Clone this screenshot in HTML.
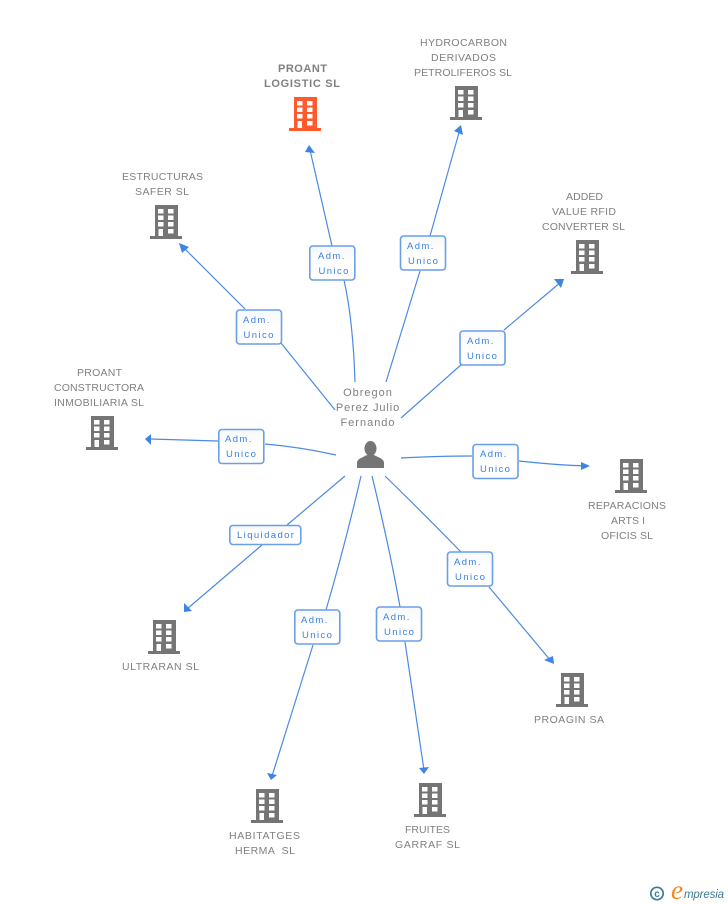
<!DOCTYPE html>
<html><head><meta charset="utf-8"><style>
html,body{margin:0;padding:0;background:#fff}
svg{display:block}
text{font-family:"Liberation Sans",sans-serif}
.n{font-size:10.5px;fill:#808080;text-anchor:middle}
.h{font-size:11px;font-weight:bold;fill:#808080;text-anchor:middle}
.l{font-size:9.5px;fill:#3a7fe0;letter-spacing:1.4px}
.c{fill:none;stroke:#4a8ae6;stroke-width:1.2}
.b{fill:url(#g);stroke:#6a9fe8;stroke-width:1.6}
.a{fill:#3d84e6}
</style></head><body>
<svg width="728" height="905" viewBox="0 0 728 905" xmlns="http://www.w3.org/2000/svg">
<defs>
<linearGradient id="g" x1="0" y1="0" x2="0" y2="1"><stop offset="0" stop-color="#f6f8fb"/><stop offset=".5" stop-color="#ffffff"/></linearGradient>
<symbol id="bld" width="32" height="34" viewBox="0 0 32 34">
<path fill-rule="evenodd" d="M5 0H28V31H32V34H0V31H5ZM8 4v4.500h5.500V4ZM18 4v4.500h5.500V4ZM8 10.500v4.500h5.500v-4.500ZM18 10.500v4.500h5.500v-4.500ZM8 17v4.500h5.500V17ZM18 17v4.500h5.500V17ZM8.500 24V31H13V24ZM18 24v4.500h5.500V24Z"/>
</symbol>
</defs>

<!-- connectors -->
<path class="c" d="M355 382Q353 320 344 280Q339 262 332 246L310 150"/>
<path class="c" d="M386 382L420 271M430 236L460 129"/>
<path class="c" d="M401 418L462 364M504 330L561 282"/>
<path class="c" d="M335 410L281 343M245 309L183 247"/>
<path class="c" d="M336 455Q300 447 265 444M218 441L150 439"/>
<path class="c" d="M401 458Q440 456 472 456M519 461Q555 465 586 466"/>
<path class="c" d="M385 476Q425 515 461 552M489 587L551 661"/>
<path class="c" d="M372 476Q390 550 400 607M405 642L424 770"/>
<path class="c" d="M361 476Q345 545 326 610M313 645L272 776"/>
<path class="c" d="M345 476L287 525M262 545L187 609"/>

<!-- arrowheads -->
<path class="a" d="M309 145L315 153L305 152Z"/>
<path class="a" d="M461 125L463 135L454 131Z"/>
<path class="a" d="M564 279L561 288L554 279Z"/>
<path class="a" d="M179 243L189 247L182 253Z"/>
<path class="a" d="M145 439L151 434L151 445Z"/>
<path class="a" d="M590 466L581 462L581 470Z"/>
<path class="a" d="M554 664L544 660L553 656Z"/>
<path class="a" d="M424 774L419 768L429 767Z"/>
<path class="a" d="M271 780L267 773L277 775Z"/>
<path class="a" d="M184 612L192 611L184 603Z"/>

<!-- label boxes -->
<g>
<rect class="b" x="309.800" y="246" width="45" height="34" rx="3"/>
<text class="l" x="318" y="259">Adm.</text><text class="l" x="318.500" y="274">Unico</text>
<rect class="b" x="400.500" y="236" width="45" height="34" rx="3"/>
<text class="l" x="407" y="249">Adm.</text><text class="l" x="408" y="264">Unico</text>
<rect class="b" x="460" y="331" width="45" height="34" rx="3"/>
<text class="l" x="467" y="344">Adm.</text><text class="l" x="467" y="359">Unico</text>
<rect class="b" x="473" y="444.500" width="45" height="34" rx="3"/>
<text class="l" x="480" y="457">Adm.</text><text class="l" x="480" y="472">Unico</text>
<rect class="b" x="447.500" y="552" width="45" height="34" rx="3"/>
<text class="l" x="454" y="565">Adm.</text><text class="l" x="455" y="580">Unico</text>
<rect class="b" x="376.500" y="607" width="45" height="34" rx="3"/>
<text class="l" x="383" y="620">Adm.</text><text class="l" x="384" y="635">Unico</text>
<rect class="b" x="294.800" y="610" width="45" height="34" rx="3"/>
<text class="l" x="301" y="623">Adm.</text><text class="l" x="302" y="638">Unico</text>
<rect class="b" x="229.800" y="525.500" width="71" height="19" rx="3"/>
<text class="l" x="237" y="538">Liquidador</text>
<rect class="b" x="218.800" y="429.500" width="45" height="34" rx="3"/>
<text class="l" x="225" y="442">Adm.</text><text class="l" x="226" y="457">Unico</text>
<rect class="b" x="236.500" y="310" width="45" height="34" rx="3"/>
<text class="l" x="243" y="323">Adm.</text><text class="l" x="243.500" y="338">Unico</text>
</g>

<!-- buildings -->
<g fill="#ff5a2c"><use href="#bld" x="289" y="97"/></g>
<g fill="#757575">
<use href="#bld" x="450" y="86"/>
<use href="#bld" x="150" y="205"/>
<use href="#bld" x="571" y="240"/>
<use href="#bld" x="86" y="416"/>
<use href="#bld" x="615" y="459"/>
<use href="#bld" x="148" y="620"/>
<use href="#bld" x="556" y="673"/>
<use href="#bld" x="251" y="789"/>
<use href="#bld" x="414" y="783"/>
</g>

<!-- person -->
<g fill="#757575">
<ellipse cx="370.500" cy="448.500" rx="6" ry="7.500"/>
<path d="M357 468V462Q358 459 362 457.500L367 455H374L379 457.500Q383 459 384 462V468Z"/>
</g>

<!-- node labels -->
<text class="h" x="302.500" y="72" textLength="49">PROANT</text>
<text class="h" x="302" y="87" textLength="76">LOGISTIC SL</text>
<text class="n" x="463.500" y="46" textLength="87">HYDROCARBON</text>
<text class="n" x="463.500" y="61" textLength="65">DERIVADOS</text>
<text class="n" x="463" y="76" textLength="98">PETROLIFEROS SL</text>
<text class="n" x="162.500" y="180" textLength="81">ESTRUCTURAS</text>
<text class="n" x="162" y="195" textLength="54">SAFER SL</text>
<text class="n" x="584.500" y="200" textLength="37">ADDED</text>
<text class="n" x="584" y="215" textLength="64">VALUE RFID</text>
<text class="n" x="583.500" y="230" textLength="83">CONVERTER SL</text>
<text class="n" x="99.500" y="376" textLength="45">PROANT</text>
<text class="n" x="99" y="391" textLength="90">CONSTRUCTORA</text>
<text class="n" x="99" y="406" textLength="90">INMOBILIARIA SL</text>
<text class="n" x="627" y="509" textLength="78">REPARACIONS</text>
<text class="n" x="628" y="524" textLength="34">ARTS I</text>
<text class="n" x="627" y="539" textLength="52">OFICIS SL</text>
<text class="n" x="160.500" y="670" textLength="77">ULTRARAN SL</text>
<text class="n" x="569" y="723" textLength="70">PROAGIN SA</text>
<text class="n" x="264.500" y="839" textLength="71">HABITATGES</text>
<text class="n" x="265" y="854" textLength="60" xml:space="preserve">HERMA  SL</text>
<text class="n" x="427.500" y="833" textLength="45">FRUITES</text>
<text class="n" x="427.500" y="848" textLength="65">GARRAF SL</text>
<text class="n" style="font-size:11px;letter-spacing:1px" x="368" y="396">Obregon</text>
<text class="n" style="font-size:11px;letter-spacing:.9px" x="368" y="411">Perez Julio</text>
<text class="n" style="font-size:11px;letter-spacing:1px" x="368" y="426">Fernando</text>

<!-- logo -->
<circle cx="657" cy="893.500" r="6.200" fill="none" stroke="#3d7a99" stroke-width="1.700"/>
<text x="657" y="897" style="font-size:10px;font-weight:bold;fill:#3d7a99;text-anchor:middle">c</text>
<text x="671" y="899" style="font-family:'Liberation Serif',serif;font-size:27px;font-style:italic;fill:#f08a24">e</text>
<text x="684" y="898" textLength="40" style="font-size:11.500px;font-style:italic;fill:#3d7a99">mpresia</text>
</svg>
</body></html>
